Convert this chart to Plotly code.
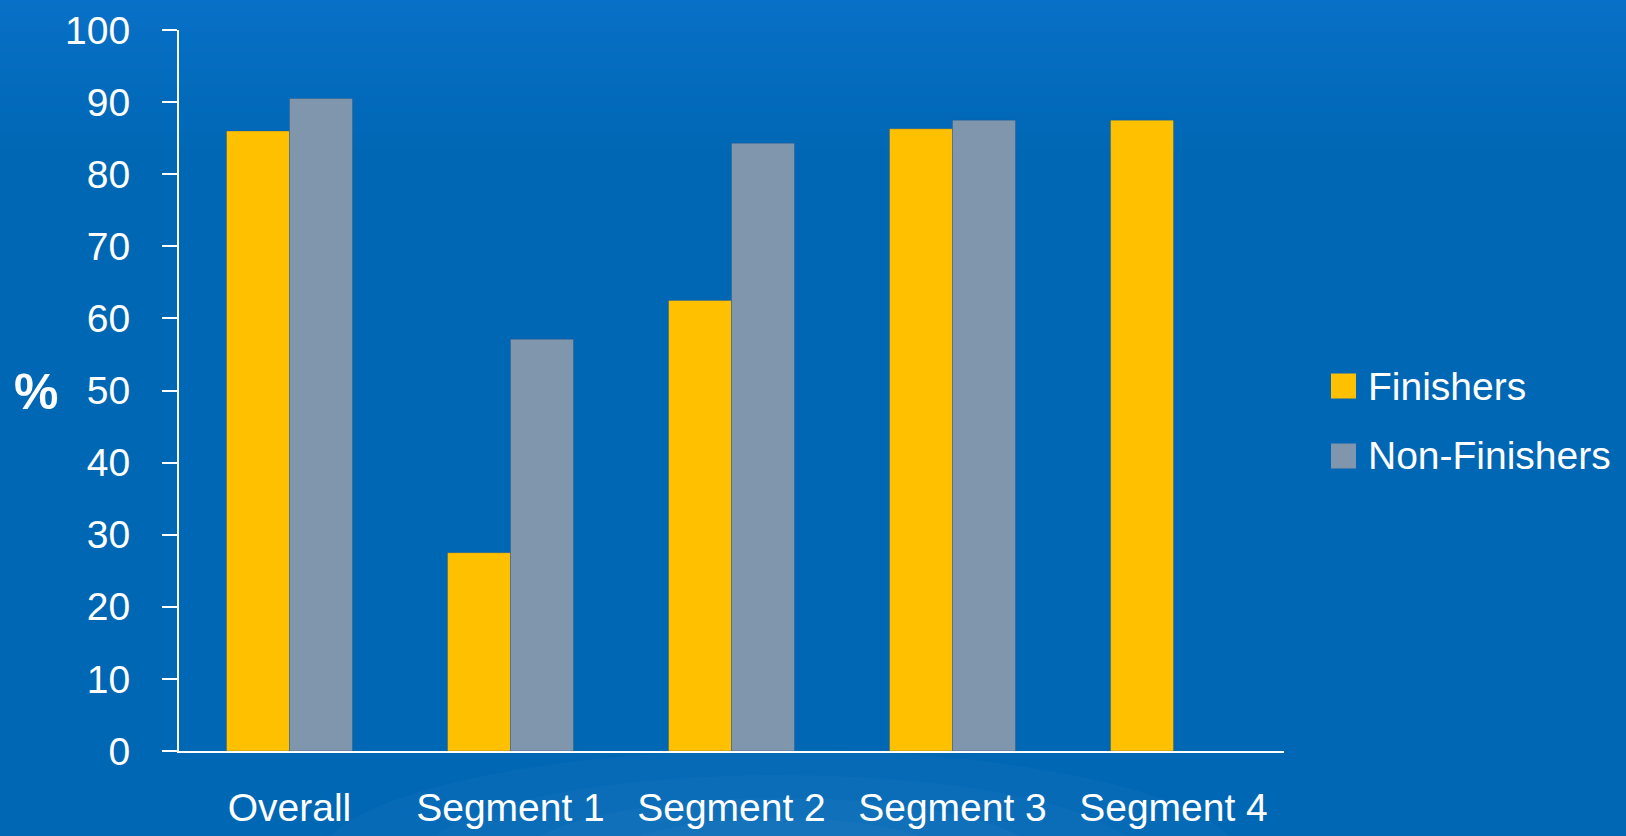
import plotly.graph_objects as go

# Chart data
categories = ["Overall", "Segment 1", "Segment 2", "Segment 3", "Segment 4"]
finishers = [86.0, 27.5, 62.5, 86.3, 87.5]
non_finishers = [90.5, 57.1, 84.3, 87.5, None]
series_names = ["Finishers", "Non-Finishers"]
y_ticks = [0, 10, 20, 30, 40, 50, 60, 70, 80, 90, 100]

W, H = 1626, 836
PLOT_L, PLOT_R, PLOT_T, PLOT_B = 179, 1284, 30, 751

YELLOW = "#FFC000"
GREY = "#8096AD"
FONT = "Liberation Sans, Arial, sans-serif"
FS = 39


def px_x(x):
    return (x - PLOT_L) / (PLOT_R - PLOT_L)


def px_y(y):
    return (PLOT_B - y) / (PLOT_B - PLOT_T)


fig = go.Figure()
fig.add_trace(go.Bar(
    name=series_names[0], x=categories, y=finishers,
    marker=dict(color=YELLOW, line=dict(color="rgba(40,80,130,0.35)", width=1)),
))
fig.add_trace(go.Bar(
    name=series_names[1], x=categories, y=non_finishers,
    marker=dict(color=GREY, line=dict(color="rgba(40,80,130,0.35)", width=1)),
))

shapes = []

# soft vertical gradient across the top of the slide
top_col = (8, 112, 198)
base_col = (0, 103, 180)
bands = 30
band_h = 160 / bands
for i in range(bands):
    t = i / (bands - 1)
    c = tuple(round(top_col[k] + (base_col[k] - top_col[k]) * t) for k in range(3))
    y0 = i * band_h
    y1 = y0 + band_h + 1
    shapes.append(dict(
        type="rect", xref="paper", yref="paper", layer="below",
        x0=px_x(0), x1=px_x(W), y0=px_y(y1), y1=px_y(y0),
        fillcolor="rgb(%d,%d,%d)" % c, line=dict(width=0),
    ))

# faint glow near the bottom centre
for rx, ry in [(460, 110), (360, 85), (260, 62), (170, 42)]:
    cx, cy = 780, 860
    shapes.append(dict(
        type="circle", xref="paper", yref="paper", layer="below",
        x0=px_x(cx - rx), x1=px_x(cx + rx), y0=px_y(cy + ry), y1=px_y(cy - ry),
        fillcolor="rgba(120,180,230,0.05)", line=dict(width=0),
    ))

# legend swatches
legend_rows = [(series_names[0], YELLOW, 386), (series_names[1], GREY, 456)]
annotations = []
for name, col, yc in legend_rows:
    shapes.append(dict(
        type="rect", xref="paper", yref="paper",
        x0=px_x(1331), x1=px_x(1356), y0=px_y(yc + 12.5), y1=px_y(yc - 12.5),
        fillcolor=col, line=dict(width=0),
    ))
    annotations.append(dict(
        text=name, xref="paper", yref="paper", x=px_x(1366), y=px_y(yc),
        xanchor="left", yanchor="middle", showarrow=False,
        font=dict(family=FONT, size=FS, color="white"),
    ))

# "%" axis caption
annotations.append(dict(
    text="<b>%</b>", xref="paper", yref="paper", x=px_x(36), y=px_y(392),
    xanchor="center", yanchor="middle", showarrow=False,
    font=dict(family=FONT, size=50, color="white"),
))

fig.update_layout(
    width=W, height=H,
    margin=dict(l=PLOT_L, r=W - PLOT_R, t=PLOT_T, b=H - PLOT_B, autoexpand=False),
    paper_bgcolor="rgb(0,103,180)",
    plot_bgcolor="rgba(0,0,0,0)",
    barmode="group", bargap=0.43, bargroupgap=0,
    showlegend=False,
    shapes=shapes, annotations=annotations,
    font=dict(family=FONT, color="white"),
)
fig.update_xaxes(
    showgrid=False, zeroline=False, showline=True, linecolor="white", linewidth=2,
    ticks="", tickangle=0, automargin=False,
    tickfont=dict(family=FONT, size=FS, color="white"),
    ticklabelstandoff=21,
)
fig.update_yaxes(
    range=[0, 100], tickvals=y_ticks, showgrid=False, zeroline=False,
    showline=True, linecolor="white", linewidth=2, automargin=False,
    ticks="outside", ticklen=15, tickwidth=2, tickcolor="white",
    tickfont=dict(family=FONT, size=FS, color="white"),
    ticklabelstandoff=24,
)

fig.write_html("out.html")
